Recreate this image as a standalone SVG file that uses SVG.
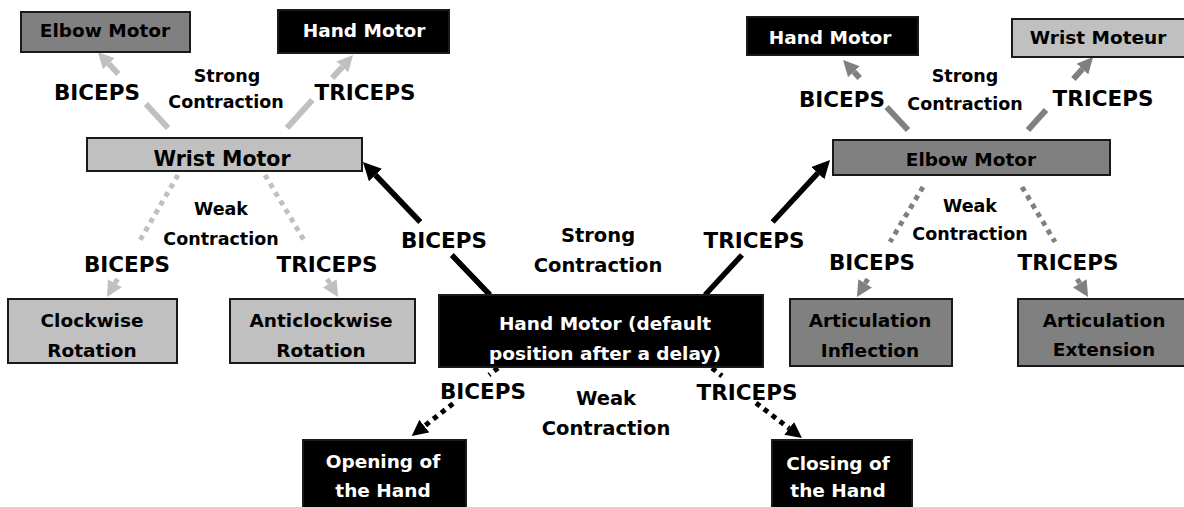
<svg xmlns="http://www.w3.org/2000/svg" width="1184" height="507" viewBox="0 0 1184 507">
<style>
.box{stroke:#1a1a1a;stroke-width:2}
.lg{fill:#c0c0c0}
.dg{fill:#808080}
.bk{fill:#000}
text{font-family:"DejaVu Sans","Liberation Sans",sans-serif;font-weight:bold;text-anchor:middle;fill:#000}
.n{font-size:18.5px}
.nl{font-size:20.5px}
.w{fill:#fff}
.lb{font-size:21.5px}
.c{font-size:17.5px}
.cb{font-size:19.5px}
.sl{stroke:#c0c0c0;stroke-width:6;fill:none}
.sd{stroke:#808080;stroke-width:6;fill:none}
.sb{stroke:#000;stroke-width:5.5;fill:none}
.dl{stroke:#c0c0c0;stroke-width:5;stroke-dasharray:5 5;fill:none}
.dd{stroke:#808080;stroke-width:5;stroke-dasharray:5 5;fill:none}
.db{stroke:#000;stroke-width:5;stroke-dasharray:5 5;fill:none}
</style>
<defs>
<marker id="mlg" viewBox="0 0 16 16" refX="0" refY="8" markerWidth="16" markerHeight="16" markerUnits="userSpaceOnUse" orient="auto"><path d="M0,0 L16,8 L0,16 z" fill="#c0c0c0"/></marker>
<marker id="mdg" viewBox="0 0 16 16" refX="0" refY="8" markerWidth="16" markerHeight="16" markerUnits="userSpaceOnUse" orient="auto"><path d="M0,0 L16,8 L0,16 z" fill="#808080"/></marker>
<marker id="mbk" viewBox="0 0 18 18" refX="0" refY="9" markerWidth="18" markerHeight="18" markerUnits="userSpaceOnUse" orient="auto"><path d="M0,0 L18,9 L0,18 z" fill="#000"/></marker>
<marker id="mbk2" viewBox="0 0 16 16" refX="0" refY="8" markerWidth="16" markerHeight="16" markerUnits="userSpaceOnUse" orient="auto"><path d="M0,0 L16,8 L0,16 z" fill="#000"/></marker>
</defs>
<rect x="0" y="0" width="1184" height="507" fill="#fff"/>

<g id="connectors">
<line class="sl" x1="168" y1="128" x2="145.9" y2="104"/>
<line class="sl" x1="118.3" y1="74" x2="108.8" y2="63.8" marker-end="url(#mlg)"/>
<line class="sl" x1="287" y1="128" x2="312.3" y2="100"/>
<line class="sl" x1="332.2" y1="78" x2="342.3" y2="66.9" marker-end="url(#mlg)"/>
<line class="sb" x1="490" y1="295" x2="451.8" y2="255"/>
<line class="sb" x1="420.3" y1="222" x2="375.4" y2="175" marker-end="url(#mbk)"/>
<line class="sb" x1="705" y1="295" x2="742" y2="255"/>
<line class="sb" x1="772.6" y1="222" x2="817.8" y2="173.2" marker-end="url(#mbk)"/>
<line class="sd" x1="908" y1="130" x2="886.6" y2="107"/>
<line class="sd" x1="859.7" y1="78" x2="853.9" y2="71.7" marker-end="url(#mdg)"/>
<line class="sd" x1="1028" y1="130" x2="1046" y2="110"/>
<line class="sd" x1="1073.4" y1="79" x2="1082.4" y2="69" marker-end="url(#mdg)"/>
<line class="dl" x1="178" y1="175" x2="138.4" y2="243"/>
<line class="dl" x1="117.5" y1="278.9" x2="115" y2="283.2" marker-end="url(#mlg)"/>
<line class="dl" x1="265" y1="175" x2="305.7" y2="243"/>
<line class="dl" x1="327.2" y1="279" x2="329.8" y2="283.3" marker-end="url(#mlg)"/>
<line class="dd" x1="923" y1="187" x2="890" y2="242"/>
<line class="dd" x1="867.8" y1="279" x2="865.2" y2="283.3" marker-end="url(#mdg)"/>
<line class="dd" x1="1022" y1="187" x2="1055" y2="242"/>
<line class="dd" x1="1077.2" y1="279" x2="1079.8" y2="283.3" marker-end="url(#mdg)"/>
<line class="db" x1="498" y1="368" x2="489" y2="375"/>
<line class="db" x1="453" y1="403.6" x2="424.3" y2="426.1" marker-end="url(#mbk2)"/>
<line class="db" x1="712" y1="368" x2="722" y2="376"/>
<line class="db" x1="756" y1="403" x2="789.2" y2="428.3" marker-end="url(#mbk2)"/>
</g>

<g id="elbow-motor-tl">
<rect class="box dg" x="21" y="12" width="169" height="40"/>
<text class="n" x="105" y="37">Elbow Motor</text>
</g>
<g id="hand-motor-tl">
<rect class="box bk" x="278" y="10" width="171" height="43"/>
<text class="n w" x="364" y="37">Hand Motor</text>
</g>
<g id="wrist-motor">
<rect class="box lg" x="87" y="138" width="275" height="33"/>
<text class="nl" x="222" y="166">Wrist Motor</text>
</g>
<g id="clockwise-rotation">
<rect class="box lg" x="8" y="299" width="169" height="64"/>
<text class="n" x="92" y="327">Clockwise</text>
<text class="n" x="92" y="357">Rotation</text>
</g>
<g id="anticlockwise-rotation">
<rect class="box lg" x="230" y="299" width="185" height="64"/>
<text class="n" x="321" y="327">Anticlockwise</text>
<text class="n" x="321" y="357">Rotation</text>
</g>
<g id="hand-motor-default">
<rect class="box bk" x="439" y="295" width="324" height="72"/>
<text class="n w" x="605" y="330">Hand Motor (default</text>
<text class="n w" x="605" y="360">position after a delay)</text>
</g>
<g id="hand-motor-tr">
<rect class="box bk" x="747" y="17" width="171" height="38"/>
<text class="n w" x="830" y="44">Hand Motor</text>
</g>
<g id="wrist-moteur">
<rect class="box lg" x="1012" y="19" width="176" height="38"/>
<text class="n" x="1098" y="44">Wrist Moteur</text>
</g>
<g id="elbow-motor">
<rect class="box dg" x="833" y="140" width="277" height="35"/>
<text class="n" x="971" y="166">Elbow Motor</text>
</g>
<g id="articulation-inflection">
<rect class="box dg" x="790" y="299" width="162" height="67"/>
<text class="n" x="870" y="327">Articulation</text>
<text class="n" x="870" y="357">Inflection</text>
</g>
<g id="articulation-extension">
<rect class="box dg" x="1018" y="299" width="170" height="67"/>
<text class="n" x="1104" y="327">Articulation</text>
<text class="n" x="1104" y="356">Extension</text>
</g>
<g id="opening-hand">
<rect class="box bk" x="303" y="440" width="163" height="72"/>
<text class="n w" x="383" y="468">Opening of</text>
<text class="n w" x="383" y="497">the Hand</text>
</g>
<g id="closing-hand">
<rect class="box bk" x="772" y="440" width="140" height="72"/>
<text class="n w" x="838" y="470">Closing of</text>
<text class="n w" x="838" y="497">the Hand</text>
</g>

<g id="edge-labels">
<text class="lb" x="97" y="100">BICEPS</text>
<text class="lb" x="365" y="100">TRICEPS</text>
<text class="c" x="227" y="82">Strong</text>
<text class="c" x="226" y="108">Contraction</text>
<text class="c" x="221" y="215">Weak</text>
<text class="c" x="221" y="245">Contraction</text>
<text class="lb" x="127" y="272">BICEPS</text>
<text class="lb" x="327" y="272">TRICEPS</text>
<text class="lb" x="444" y="248">BICEPS</text>
<text class="lb" x="754" y="248">TRICEPS</text>
<text class="cb" x="598" y="242">Strong</text>
<text class="cb" x="598" y="272">Contraction</text>
<text class="lb" x="842" y="107">BICEPS</text>
<text class="c" x="965" y="82">Strong</text>
<text class="c" x="965" y="110">Contraction</text>
<text class="lb" x="1103" y="106">TRICEPS</text>
<text class="c" x="970" y="212">Weak</text>
<text class="c" x="970" y="240">Contraction</text>
<text class="lb" x="872" y="270">BICEPS</text>
<text class="lb" x="1068" y="270">TRICEPS</text>
<text class="lb" x="483" y="399">BICEPS</text>
<text class="cb" x="606" y="405">Weak</text>
<text class="cb" x="606" y="435">Contraction</text>
<text class="lb" x="747" y="400">TRICEPS</text>
</g>
</svg>
